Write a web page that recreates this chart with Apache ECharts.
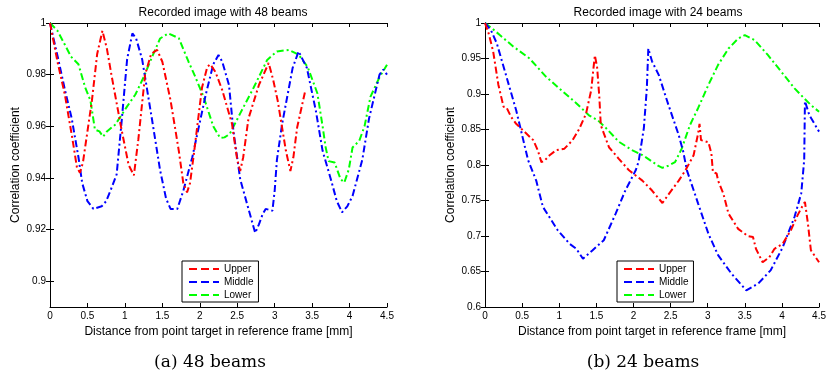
<!DOCTYPE html>
<html>
<head>
<meta charset="utf-8">
<script src="https://cdn.jsdelivr.net/npm/echarts@6/dist/echarts.min.js"></script>
<style>
  html, body { margin: 0; padding: 0; background: #fff; }
  #chart { width: 829px; height: 383px; }
</style>
</head>
<body>
<div id="chart"></div>
<script>
// 48 beams: [distance mm, correlation]
const upper48 = [[0,1],[0.1,0.985],[0.2,0.972],[0.3,0.955],[0.36,0.944],[0.4,0.942],[0.44,0.946],[0.5,0.958],[0.56,0.97],[0.63,0.988],[0.7,0.997],[0.76,0.99],[0.82,0.98],[0.95,0.9595],[1.05,0.945],[1.12,0.941],[1.18,0.955],[1.27,0.98],[1.35,0.988],[1.43,0.9896],[1.5,0.985],[1.61,0.97],[1.72,0.9505],[1.78,0.938],[1.83,0.9344],[1.87,0.938],[1.92,0.949],[2.03,0.975],[2.1,0.983],[2.14,0.984],[2.21,0.981],[2.3,0.974],[2.43,0.961],[2.5,0.947],[2.54,0.9427],[2.58,0.948],[2.65,0.963],[2.79,0.976],[2.92,0.9845],[2.98,0.978],[3.04,0.97],[3.15,0.9505],[3.21,0.9427],[3.25,0.948],[3.3,0.9595],[3.41,0.974]];
const middle48 = [[0,1],[0.11,0.986],[0.2,0.974],[0.29,0.963],[0.38,0.948],[0.43,0.938],[0.5,0.931],[0.58,0.928],[0.69,0.929],[0.75,0.931],[0.82,0.936],[0.89,0.9414],[0.96,0.963],[1.03,0.986],[1.1,0.996],[1.15,0.994],[1.23,0.986],[1.36,0.963],[1.47,0.943],[1.55,0.932],[1.61,0.928],[1.7,0.928],[1.78,0.935],[1.9,0.948],[2.08,0.9723],[2.18,0.984],[2.25,0.9876],[2.3,0.985],[2.39,0.976],[2.45,0.958],[2.54,0.9395],[2.65,0.928],[2.74,0.9187],[2.79,0.922],[2.84,0.926],[2.88,0.928],[2.97,0.9273],[3.0,0.935],[3.03,0.947],[3.1,0.961],[3.24,0.9826],[3.32,0.989],[3.43,0.9826],[3.55,0.966],[3.64,0.9505],[3.75,0.9395],[3.83,0.931],[3.9,0.9267],[3.97,0.929],[4.04,0.933],[4.17,0.947],[4.26,0.963],[4.4,0.98],[4.45,0.982],[4.5,0.98]];
const lower48 = [[0,1],[0.1,0.997],[0.2,0.9915],[0.28,0.987],[0.38,0.984],[0.47,0.975],[0.54,0.97],[0.6,0.9587],[0.66,0.958],[0.71,0.956],[0.76,0.958],[0.87,0.9606],[1.03,0.9677],[1.14,0.9723],[1.25,0.979],[1.38,0.988],[1.47,0.994],[1.58,0.996],[1.72,0.9941],[1.85,0.985],[1.92,0.9805],[2.05,0.9715],[2.18,0.96],[2.27,0.9555],[2.33,0.9557],[2.4,0.957],[2.54,0.965],[2.72,0.975],[2.9,0.9857],[3.03,0.989],[3.19,0.9896],[3.32,0.9877],[3.44,0.983],[3.57,0.9728],[3.64,0.96],[3.68,0.952],[3.72,0.9465],[3.8,0.946],[3.88,0.9395],[3.93,0.9382],[3.99,0.9433],[4.04,0.9518],[4.13,0.9544],[4.2,0.96],[4.28,0.9715],[4.4,0.979],[4.5,0.9838]];

// 24 beams
const upper24 = [[0,1],[0.05,0.985],[0.11,0.96],[0.18,0.913],[0.25,0.882],[0.29,0.881],[0.35,0.868],[0.42,0.858],[0.51,0.849],[0.65,0.835],[0.71,0.821],[0.76,0.804],[0.8,0.806],[0.87,0.8137],[0.96,0.821],[1.07,0.823],[1.18,0.835],[1.27,0.851],[1.36,0.872],[1.43,0.905],[1.46,0.935],[1.48,0.9545],[1.51,0.938],[1.54,0.896],[1.56,0.856],[1.67,0.825],[1.8,0.809],[1.94,0.7925],[2.12,0.778],[2.25,0.764],[2.39,0.7465],[2.48,0.7597],[2.61,0.778],[2.7,0.7925],[2.81,0.8137],[2.87,0.844],[2.89,0.858],[2.91,0.835],[3.01,0.832],[3.05,0.816],[3.07,0.79],[3.12,0.788],[3.14,0.778],[3.21,0.76],[3.28,0.7315],[3.41,0.71],[3.54,0.7],[3.61,0.6986],[3.65,0.682],[3.74,0.663],[3.83,0.67],[3.9,0.682],[4.01,0.689],[4.12,0.708],[4.21,0.729],[4.28,0.743],[4.31,0.748],[4.35,0.7175],[4.39,0.68],[4.5,0.663]];
const middle24 = [[0,1],[0.08,0.99],[0.16,0.971],[0.29,0.924],[0.42,0.877],[0.58,0.807],[0.69,0.778],[0.78,0.741],[0.98,0.708],[1.14,0.689],[1.23,0.682],[1.32,0.668],[1.34,0.667],[1.45,0.68],[1.6,0.694],[1.76,0.7315],[1.89,0.764],[2.03,0.7925],[2.07,0.805],[2.14,0.852],[2.18,0.908],[2.2,0.964],[2.25,0.946],[2.34,0.927],[2.47,0.885],[2.61,0.842],[2.67,0.819],[2.72,0.7925],[2.87,0.746],[3.01,0.703],[3.14,0.673],[3.32,0.647],[3.52,0.6235],[3.68,0.633],[3.85,0.652],[4.01,0.684],[4.17,0.727],[4.26,0.76],[4.3,0.807],[4.31,0.89],[4.37,0.87],[4.5,0.847]];
const lower24 = [[0,1],[0.1,0.992],[0.2,0.983],[0.38,0.967],[0.6,0.95],[0.82,0.9245],[1.0,0.908],[1.23,0.887],[1.4,0.87],[1.52,0.863],[1.63,0.852],[1.8,0.833],[1.98,0.821],[2.12,0.814],[2.25,0.805],[2.33,0.799],[2.39,0.796],[2.47,0.799],[2.56,0.804],[2.65,0.823],[2.76,0.856],[2.87,0.88],[3.01,0.913],[3.14,0.941],[3.28,0.964],[3.41,0.978],[3.5,0.983],[3.63,0.976],[3.81,0.955],[3.99,0.9315],[4.17,0.908],[4.28,0.896],[4.39,0.8845],[4.5,0.875]];

const seriesNames = ["Upper", "Middle", "Lower"];
const seriesColors = ["#ff0000", "#0000ff", "#00ff00"];
const panelTitles = ["Recorded image with 48 beams", "Recorded image with 24 beams"];
const captions = ["(a) 48 beams", "(b) 24 beams"];
const xName = "Distance from point target in reference frame [mm]";
const yName = "Correlation coefficient";
const xTicks = [0, 0.5, 1, 1.5, 2, 2.5, 3, 3.5, 4, 4.5];
const yTicks48 = [0.9, 0.92, 0.94, 0.96, 0.98, 1];
const yTicks24 = [0.6, 0.65, 0.7, 0.75, 0.8, 0.85, 0.9, 0.95, 1];

const font = "Liberation Sans, Arial, sans-serif";
const dashDot = [7, 3, 2, 3];

const chart = echarts.init(document.getElementById("chart"));

const grids = [
  { left: 50, right: 442, top: 23, bottom: 76 },
  { left: 485, right: 7, top: 23, bottom: 76 }
];
const yRanges = [
  { min: 0.89, max: 1, ticks: yTicks48 },
  { min: 0.6, max: 1, ticks: yTicks24 }
];

const xAxes = [];
const yAxes = [];
grids.forEach((g, i) => {
  const line = { show: true, lineStyle: { color: "#000", width: 1 } };
  const tick = (vals) => ({ inside: true, length: 4, customValues: vals, lineStyle: { color: "#000" } });
  xAxes.push({
    gridIndex: i, type: "value", min: 0, max: 4.5,
    name: xName, nameLocation: "middle", nameGap: 16,
    nameTextStyle: { fontFamily: font, fontSize: 12, color: "#000" },
    axisLine: line,
    axisTick: tick(xTicks),
    axisLabel: { customValues: xTicks, fontFamily: font, fontSize: 10, color: "#000", margin: 4 },
    splitLine: { show: false }
  });
  xAxes.push({
    gridIndex: i, type: "value", position: "top", min: 0, max: 4.5,
    axisLine: line,
    axisTick: tick(xTicks),
    axisLabel: { show: false }, splitLine: { show: false }
  });
  const r = yRanges[i];
  yAxes.push({
    gridIndex: i, type: "value", min: r.min, max: r.max,
    name: yName, nameLocation: "middle", nameGap: 28,
    nameTextStyle: { fontFamily: font, fontSize: 12, color: "#000" },
    axisLine: line,
    axisTick: tick(r.ticks),
    axisLabel: { customValues: r.ticks, fontFamily: font, fontSize: 10, color: "#000", margin: 4 },
    splitLine: { show: false }
  });
  yAxes.push({
    gridIndex: i, type: "value", position: "right", min: r.min, max: r.max,
    axisLine: line,
    axisTick: tick(r.ticks),
    axisLabel: { show: false }, splitLine: { show: false }
  });
});

const panelData = [[upper48, middle48, lower48], [upper24, middle24, lower24]];
const series = [];
panelData.forEach((sets, p) => {
  sets.forEach((d, k) => {
    series.push({
      name: seriesNames[k],
      type: "line",
      xAxisIndex: p * 2,
      yAxisIndex: p * 2,
      data: d,
      symbol: "none",
      smooth: false,
      animation: false,
      lineStyle: { color: seriesColors[k], width: 2, type: dashDot },
      itemStyle: { color: seriesColors[k] },
      z: 3 - k
    });
  });
});

const legendBase = {
  orient: "vertical",
  top: 261,
  itemWidth: 30,
  itemHeight: 10,
  itemGap: 3,
  padding: [3, 5, 2, 6],
  borderColor: "#000",
  borderWidth: 1,
  backgroundColor: "#fff",
  textStyle: { fontFamily: font, fontSize: 10, color: "#000" },
  lineStyle: { type: [8, 4], width: 2 },
  itemStyle: { opacity: 0, borderWidth: 0 },
  selectedMode: false,
  data: seriesNames
};

chart.setOption({
  backgroundColor: "#fff",
  animation: false,
  title: panelTitles.map((t, i) => ({
    text: t,
    left: i === 0 ? 218 : 653,
    top: 2,
    textAlign: "center",
    textStyle: { fontFamily: font, fontSize: 12, fontWeight: "normal", color: "#000" }
  })),
  grid: grids,
  xAxis: xAxes,
  yAxis: yAxes,
  legend: [
    Object.assign({}, legendBase, { left: 182 }),
    Object.assign({}, legendBase, { left: 617 })
  ],
  graphic: captions.map((c, i) => ({
    type: "text",
    x: i === 0 ? 210 : 643,
    y: 363,
    style: {
      text: c,
      font: '17px "DejaVu Serif", serif',
      fill: "#000",
      align: "center",
      verticalAlign: "middle"
    }
  })),
  series: series
});
</script>
</body>
</html>
